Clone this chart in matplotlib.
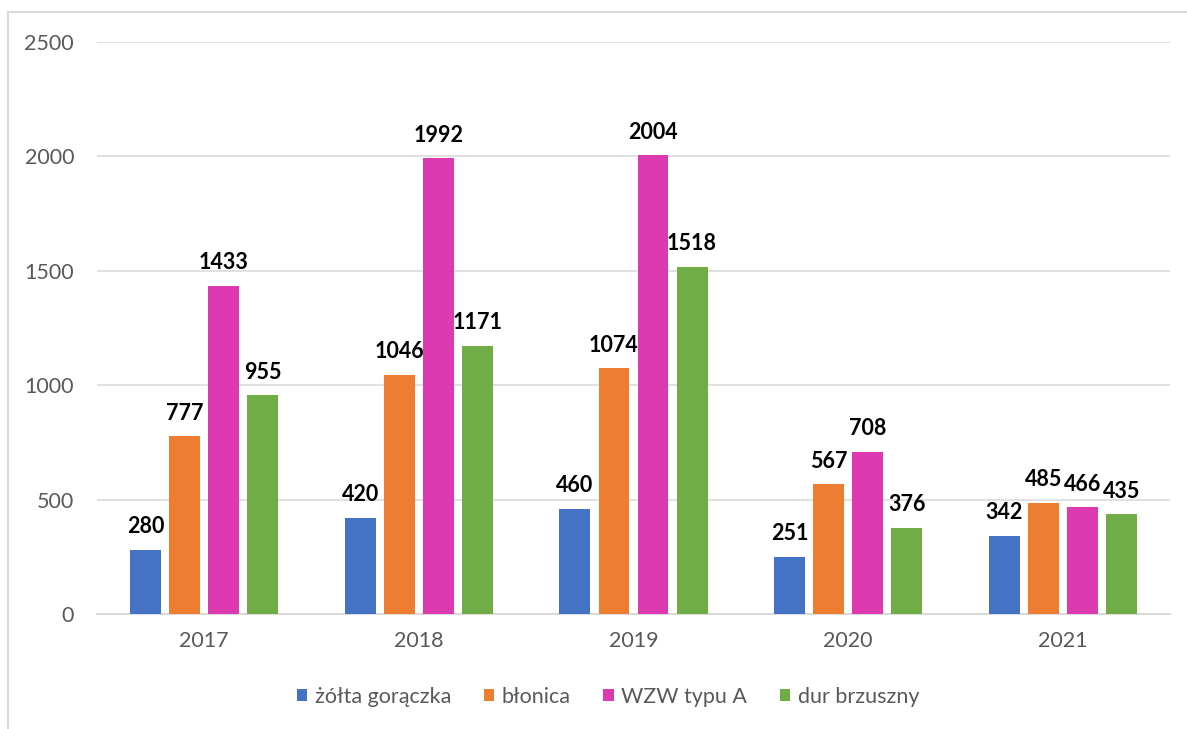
import matplotlib.pyplot as plt
from matplotlib.lines import Line2D
import numpy as np

years = ["2017", "2018", "2019", "2020", "2021"]
zolta_goraczka = [280, 420, 460, 251, 342]
blonica = [777, 1046, 1074, 567, 485]
wzw_a = [1433, 1992, 2004, 708, 466]
dur_brzuszny = [955, 1171, 1518, 376, 435]

series_names = ["żółta gorączka", "błonica", "WZW typu A", "dur brzuszny"]
series_colors = ["#4472C4", "#ED7D31", "#DD39B0", "#70AD47"]

plt.rcParams["font.family"] = ["Lato", "DejaVu Sans"]

fig = plt.figure(figsize=(11.87, 7.29), dpi=100)
ax = fig.add_axes([97 / 1187, 1 - 614 / 729, (1170 - 97) / 1187, (614 - 42) / 729])

grid_color = "#D9D9D9"
text_gray = "#595959"

x = np.arange(len(years))
step = 0.182
width = 0.144
all_series = [zolta_goraczka, blonica, wzw_a, dur_brzuszny]
for i, (vals, name, col) in enumerate(zip(all_series, series_names, series_colors)):
    pos = x + (i - 1.5) * step
    ax.bar(pos, vals, width=width, color=col, label=name, zorder=3)
    for px, v in zip(pos, vals):
        ax.annotate(str(v), (px, v), xytext=(0, 12), textcoords="offset points",
                    ha="center", va="baseline", fontsize=15.5, fontweight="bold",
                    color="black", zorder=4)

ax.set_xlim(-0.5, len(years) - 0.5)
ax.set_ylim(0, 2500)
ax.set_yticks(range(0, 2501, 500))
ax.set_xticks(x)
ax.set_xticklabels(years)
ax.yaxis.grid(True, color=grid_color, linewidth=1.1, zorder=0)
for side in ["top", "right", "left"]:
    ax.spines[side].set_visible(False)
ax.spines["bottom"].set_color(grid_color)
ax.spines["bottom"].set_linewidth(1.4)
ax.tick_params(axis="both", length=0, labelsize=15.5, labelcolor=text_gray)
ax.tick_params(axis="y", pad=16.5)
ax.tick_params(axis="x", pad=12.5)

fig.legend(loc="center", bbox_to_anchor=(608 / 1187, 1 - 697 / 729), ncol=4,
           frameon=False, fontsize=15.5, labelcolor=text_gray,
           handlelength=0.5, handleheight=0.5, handletextpad=0.35,
           columnspacing=1.5)

# chart-area border (only top and left edges visible in the crop)
fig.add_artist(Line2D([8 / 1187, 8 / 1187], [0, 1 - 12 / 729],
                      transform=fig.transFigure, color=grid_color, linewidth=1.5))
fig.add_artist(Line2D([8 / 1187, 1], [1 - 12 / 729, 1 - 12 / 729],
                      transform=fig.transFigure, color=grid_color, linewidth=1.5))

fig.savefig("out.png", dpi=100)
